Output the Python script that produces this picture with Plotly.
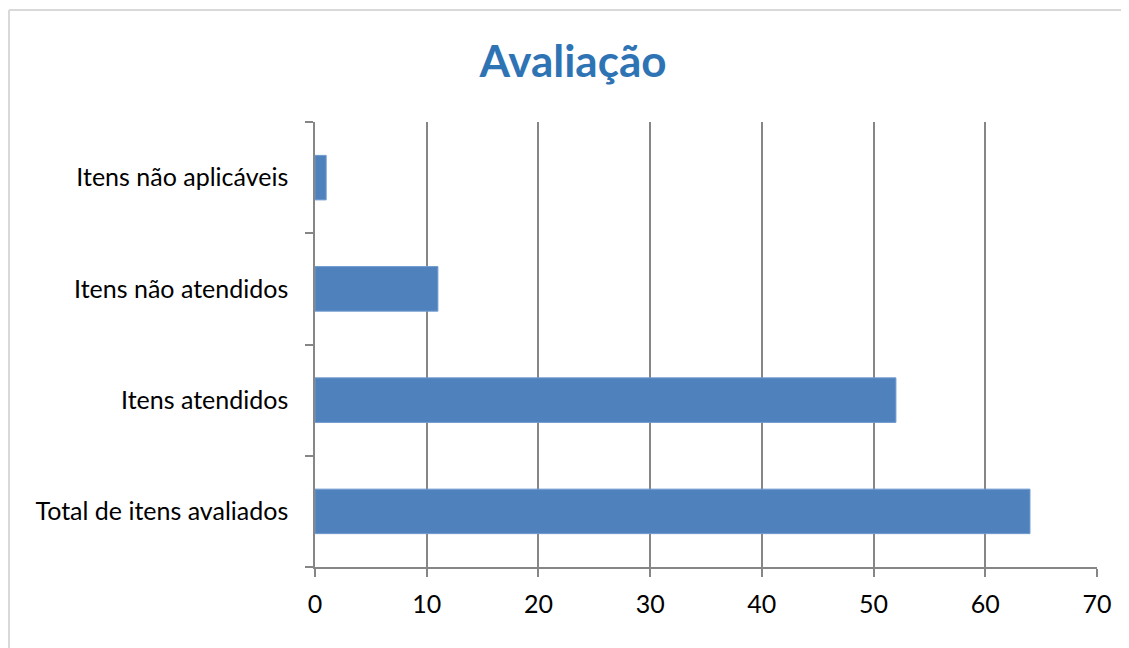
import plotly.graph_objects as go

categories = ["Total de itens avaliados", "Itens atendidos", "Itens não atendidos", "Itens não aplicáveis"]
values = [64, 52, 11, 1]
x_ticks = [0, 10, 20, 30, 40, 50, 60, 70]

OFF = 8  # page body margin
W, H = 1129 - OFF, 648 - OFF
L, R, T, B = 315 - OFF, 32, 122 - OFF, 81
pw, ph = W - L - R, H - T - B

def px2paper_x(px):
    return (px - OFF - L) / pw

def py2paper_y(py):
    return (H - B - (py - OFF)) / ph

fig = go.Figure(go.Bar(
    y=categories, x=values, orientation="h",
    marker=dict(color="#4F81BD", line=dict(color="#6F9AD0", width=1)),
    width=0.4,
))

border = dict(color="#D9D9D9", width=2)
fig.update_layout(
    width=W, height=H,
    margin=dict(l=L, r=R, t=T, b=B),
    paper_bgcolor="white", plot_bgcolor="white",
    font=dict(family="Lato, Open Sans, sans-serif", size=25, color="black"),
    showlegend=False,
    title=dict(text="<b>Avaliação</b>", x=(573 - OFF) / W, xanchor="center", y=1 - (62 - OFF) / H, yanchor="middle",
               font=dict(size=44, color="#2E74B5", family="Lato, Open Sans, sans-serif")),
    xaxis=dict(range=[0, 70], tickvals=x_ticks, showgrid=True, gridcolor="#868686", gridwidth=1.5,
               showline=True, linecolor="#868686", linewidth=1.5, ticks="outside", ticklen=8,
               tickcolor="#868686", tickwidth=1.5, zeroline=False, fixedrange=True,
               ticklabelstandoff=6, tickfont=dict(size=25)),
    yaxis=dict(type="category", categoryorder="array", categoryarray=categories,
               showline=True, linecolor="#868686", linewidth=1.5, ticks="outside", ticklen=8,
               tickcolor="#868686", tickwidth=1.5, tickson="boundaries", showgrid=False,
               ticklabelstandoff=20, tickfont=dict(size=25)),
    shapes=[
        dict(type="line", xref="paper", yref="paper", layer="below", line=border,
             x0=px2paper_x(OFF + 1), x1=px2paper_x(1200), y0=py2paper_y(10), y1=py2paper_y(10)),
        dict(type="line", xref="paper", yref="paper", layer="below", line=border,
             x0=px2paper_x(OFF + 1), x1=px2paper_x(OFF + 1), y0=py2paper_y(10), y1=py2paper_y(700)),
    ],
)

fig.write_html("out.html")
